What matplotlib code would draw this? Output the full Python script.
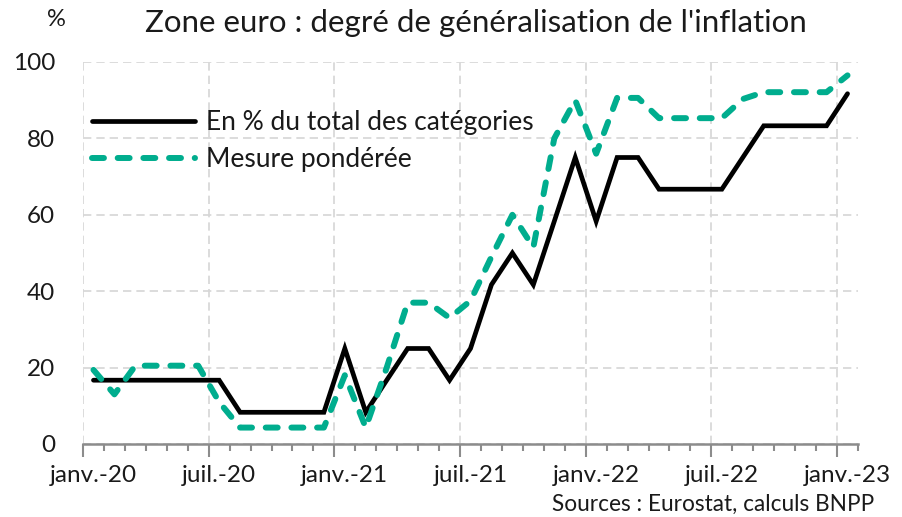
import matplotlib
matplotlib.use("Agg")
import matplotlib.pyplot as plt
import numpy as np

# ================== DATA ==================
TITLE = "Zone euro : degré de généralisation de l'inflation"
SOURCE = "Sources : Eurostat, calculs BNPP"
UNIT = "%"

# monthly, janv.-20 .. janv.-23
pct_total = [16.7, 16.7, 16.7, 16.7, 16.7, 16.7, 16.7, 8.3, 8.3, 8.3, 8.3, 8.3,
             25.0, 8.3, 16.7, 25.0, 25.0, 16.7, 25.0, 41.7, 50.0, 41.7, 58.3, 75.0,
             58.3, 75.0, 75.0, 66.7, 66.7, 66.7, 66.7, 75.0, 83.3, 83.3, 83.3, 83.3,
             91.7]
weighted = [19.4, 13.0, 20.5, 20.5, 20.5, 20.5, 11.0, 4.3, 4.3, 4.3, 4.3, 4.3,
            18.0, 4.3, 20.0, 37.0, 37.0, 33.0, 37.5, 49.0, 60.0, 51.5, 80.0, 90.0,
            76.0, 90.6, 90.6, 85.3, 85.3, 85.3, 85.3, 90.3, 92.1, 92.1, 92.1, 92.1,
            96.5]
tick_labels = ["janv.-20", "juil.-20", "janv.-21", "juil.-21",
               "janv.-22", "juil.-22", "janv.-23"]
series_labels = ["En % du total des catégories", "Mesure pondérée"]

# ================== STYLE ==================
FONT = ["Lato", "DejaVu Sans"]
GREEN = "#00ad8e"
GRID = "#d6d6d6"
AXIS = "#8c8c8c"
TXT = "#1a1a1a"

plt.rcParams["font.family"] = FONT
plt.rcParams["font.weight"] = "normal"

fig = plt.figure(figsize=(9.03, 5.17), dpi=100)
ax = fig.add_axes([83 / 903, 1 - 444 / 517, 775 / 903, 382 / 517])

x = np.arange(len(pct_total))
ax.plot(x, pct_total, color="black", lw=3.4, solid_capstyle="round",
        solid_joinstyle="miter", label=series_labels[0], zorder=3)
ax.plot(x, weighted, color=GREEN, lw=4.3, dashes=(2.0, 2.3),
        dash_capstyle="round", label=series_labels[1], zorder=4)

# axes ranges
ax.set_xlim(-0.5, len(x) - 0.5)
ax.set_ylim(0, 100)

# y axis
ax.set_yticks(np.arange(0, 101, 20))
ax.tick_params(axis="y", length=0, pad=20, labelsize=17.5, labelcolor=TXT)

# x axis: boundaries as ticks, labels in the middle of each category
bounds = np.arange(-0.5, len(x), 1.0)
ax.set_xticks(bounds[::6])
ax.set_xticks(bounds, minor=True)
ax.tick_params(axis="x", which="major", length=9, width=1.5, color=AXIS,
               labelbottom=False)
ax.tick_params(axis="x", which="minor", length=5, width=1.5, color=AXIS)

sec = ax.secondary_xaxis("bottom")
sec.set_xticks(x[::6], tick_labels)
sec.tick_params(length=0, pad=15, labelsize=17.5, labelcolor=TXT)
sec.spines["bottom"].set_visible(False)

ax.grid(True, which="major", color=GRID, linestyle=(0, (5, 3)), lw=1.2)
ax.set_axisbelow(True)

for s in ["top", "right", "left"]:
    ax.spines[s].set_visible(False)
ax.spines["bottom"].set_color(AXIS)
ax.spines["bottom"].set_linewidth(1.8)
ax.spines["bottom"].set_zorder(5)

leg = ax.legend(loc="upper left", bbox_to_anchor=(0.012, 0.874), frameon=False,
                fontsize=19, handlelength=3.9, handletextpad=0.4,
                labelspacing=0.45, borderpad=0, borderaxespad=0)
for t in leg.get_texts():
    t.set_color(TXT)

fig.text(476 / 903, 1 - 23 / 517, TITLE, ha="center", va="center",
         fontsize=22.5, color=TXT)
fig.text(56 / 903, 1 - 19 / 517, UNIT, ha="center", va="center",
         fontsize=17, color=TXT)
fig.text(874 / 903, 1 - 511 / 517, SOURCE, ha="right", va="baseline",
         fontsize=16.3, color=TXT)

fig.savefig("out.png", dpi=100)
